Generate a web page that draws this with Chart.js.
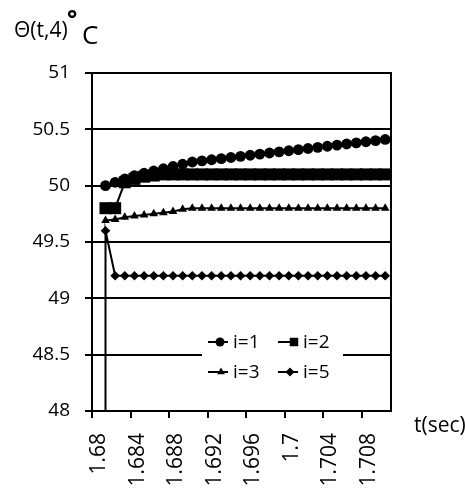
<!DOCTYPE html>
<html>
<head>
<meta charset="utf-8">
<script src="https://cdn.jsdelivr.net/npm/chart.js@4.4.1/dist/chart.umd.min.js"></script>
<style>
html, body { margin: 0; padding: 0; background: #fff; }
#wrap { position: relative; width: 465px; height: 492px; font-family: "Open Sans", sans-serif; color: #000; }
#chart { position: absolute; left: 0; top: 0; }
.lbl { position: absolute; white-space: nowrap; line-height: 1; }
</style>
</head>
<body>
<div id="wrap">
  <canvas id="chart" width="465" height="492"></canvas>
  <span class="lbl" style="left:14px; top:19px; font-size:21px;">Θ(t,4)</span>
  <span class="lbl" style="left:67px; top:6px; font-size:24px; font-weight:bold;">°</span>
  <span class="lbl" style="left:82px; top:21px; font-size:26px;">C</span>
  <span class="lbl" style="left:414px; top:414px; font-size:21px;">t(sec)</span>
</div>
<script>
// time values (sec) shared by all series
const times = [1.6814, 1.6824, 1.6834, 1.6844, 1.6854, 1.6864, 1.6874, 1.6884, 1.6894, 1.6904,
               1.6914, 1.6924, 1.6934, 1.6944, 1.6954, 1.6964, 1.6974, 1.6984, 1.6994, 1.7004,
               1.7014, 1.7024, 1.7034, 1.7044, 1.7054, 1.7064, 1.7074, 1.7084, 1.7094, 1.7104];

const seriesNames = ['i=1', 'i=2', 'i=3', 'i=5'];

const i1Values = [50.00, 50.03, 50.06, 50.09, 50.11, 50.13, 50.15, 50.17, 50.19, 50.21,
                  50.22, 50.23, 50.24, 50.25, 50.26, 50.27, 50.28, 50.29, 50.30, 50.31,
                  50.32, 50.33, 50.34, 50.35, 50.36, 50.37, 50.38, 50.39, 50.40, 50.41];
const i2Values = [49.80, 49.80, 50.03, 50.06, 50.08, 50.09, 50.10, 50.10, 50.10, 50.10,
                  50.10, 50.10, 50.10, 50.10, 50.10, 50.10, 50.10, 50.10, 50.10, 50.10,
                  50.10, 50.10, 50.10, 50.10, 50.10, 50.10, 50.10, 50.10, 50.10, 50.10];
const i3Values = [49.69, 49.70, 49.72, 49.73, 49.74, 49.75, 49.76, 49.77, 49.79, 49.80,
                  49.80, 49.80, 49.80, 49.80, 49.80, 49.80, 49.80, 49.80, 49.80, 49.80,
                  49.80, 49.80, 49.80, 49.80, 49.80, 49.80, 49.80, 49.80, 49.80, 49.80];
const i5Values = [49.60, 49.20, 49.20, 49.20, 49.20, 49.20, 49.20, 49.20, 49.20, 49.20,
                  49.20, 49.20, 49.20, 49.20, 49.20, 49.20, 49.20, 49.20, 49.20, 49.20,
                  49.20, 49.20, 49.20, 49.20, 49.20, 49.20, 49.20, 49.20, 49.20, 49.20];
// i=5 starts from below the visible range (vertical jump at the first time step)
const i5Start = 46;

const xTicks = [1.68, 1.684, 1.688, 1.692, 1.696, 1.7, 1.704, 1.708];
const yTicks = [48, 48.5, 49, 49.5, 50, 50.5, 51];

function toPoints(values) {
    return values.map(function(v, k) { return { x: times[k], y: v }; });
}

function makeSeries(label, data, style, radius) {
    return {
        label: label,
        data: data,
        yAxisID: 'y',
        borderColor: '#000',
        backgroundColor: '#000',
        borderWidth: 2,
        pointStyle: style,
        pointRadius: radius,
        pointBorderWidth: 0,
        tension: 0
    };
}

// legend drawn inside plot area (Excel-like)
const insideLegend = {
    id: 'insideLegend',
    afterDatasetsDraw(chart) {
        const ctx = chart.ctx;
        const items = [
            { ds: 0, x: 208, y: 342, mx: 220 },
            { ds: 1, x: 278, y: 342, mx: 294 },
            { ds: 2, x: 208, y: 372, mx: 221 },
            { ds: 3, x: 278, y: 372, mx: 290 }
        ];
        ctx.save();
        ctx.fillStyle = '#fff';
        ctx.fillRect(202, 326, 141, 62);
        items.forEach(function(it) {
            const ds = chart.data.datasets[it.ds];
            ctx.strokeStyle = '#000';
            ctx.lineWidth = 2;
            ctx.beginPath();
            ctx.moveTo(it.x, it.y);
            ctx.lineTo(it.x + 20, it.y);
            ctx.stroke();
            ctx.fillStyle = '#000';
            Chart.helpers.drawPoint(ctx, {
                pointStyle: ds.pointStyle,
                radius: ds.pointStyle === 'rect' ? 6 : 4.5,
                rotation: 0,
                borderWidth: 0
            }, it.mx, it.y);
            ctx.fillStyle = '#000';
            ctx.font = '19px "Open Sans", sans-serif';
            ctx.textBaseline = 'middle';
            ctx.textAlign = 'left';
            ctx.fillText(ds.label, it.x + 25, it.y + 1);
        });
        ctx.restore();
    }
};

new Chart(document.getElementById('chart'), {
    type: 'line',
    data: {
        datasets: [
            makeSeries(seriesNames[0], toPoints(i1Values), 'circle', 5.4),
            makeSeries(seriesNames[1], toPoints(i2Values), 'rect', 8.5),
            makeSeries(seriesNames[2], toPoints(i3Values), 'triangle', 5),
            makeSeries(seriesNames[3], [{ x: times[0], y: i5Start }].concat(toPoints(i5Values)), 'rectRot', 4.8)
        ]
    },
    options: {
        responsive: false,
        animation: false,
        layout: { padding: { left: 0, right: 74, top: 73, bottom: 0 } },
        plugins: {
            legend: { display: false },
            tooltip: { enabled: false }
        },
        scales: {
            x: {
                type: 'linear',
                min: 1.68,
                max: 1.711,
                afterBuildTicks: function(s) { s.ticks = xTicks.map(function(v) { return { value: v }; }); },
                afterFit: function(s) { s.height = 81; },
                ticks: {
                    autoSkip: false,
                    minRotation: 90,
                    maxRotation: 90,
                    padding: 15,
                    labelOffset: 7,
                    color: '#000',
                    font: { family: '"Open Sans", sans-serif', size: 21 },
                    callback: function(v) { return String(v); }
                },
                grid: { drawOnChartArea: false, drawTicks: true, tickLength: 7, color: '#000', lineWidth: 2 },
                border: { display: true, color: '#000', width: 2 }
            },
            y: {
                min: 48,
                max: 51,
                afterBuildTicks: function(s) { s.ticks = yTicks.map(function(v) { return { value: v }; }); },
                afterFit: function(s) { s.width = 92; },
                ticks: {
                    padding: 15,
                    color: '#000',
                    font: { family: '"Open Sans", sans-serif', size: 19 },
                    callback: function(v) { return String(v); }
                },
                grid: { color: '#000', lineWidth: 2, tickLength: 7 },
                border: { display: true, color: '#000', width: 2 }
            },
            y2: {
                position: 'right',
                min: 48,
                max: 51,
                ticks: { display: false },
                grid: { display: false },
                border: { display: true, color: '#000', width: 2 },
                afterFit: function(s) { s.width = 0; }
            }
        }
    },
    plugins: [insideLegend]
});
</script>
</body>
</html>
